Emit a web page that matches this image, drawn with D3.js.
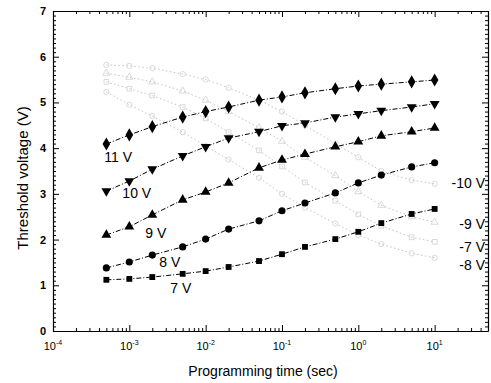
<!DOCTYPE html>
<html>
<head>
<meta charset="utf-8">
<script src="https://cdn.jsdelivr.net/npm/d3@7"></script>
<style>
  body { margin: 0; background: #fff; }
  text { font-family: "Liberation Sans", Arial, sans-serif; fill: #000; }
</style>
</head>
<body>
<div id="chart"></div>
<script>
// programming times (sec)
const times = [5e-4, 1e-3, 2e-3, 5e-3, 1e-2, 2e-2, 5e-2, 1e-1, 2e-1, 5e-1, 1, 2, 5, 10];

// program curves (threshold voltage, V)
const prog11 = [4.09, 4.29, 4.47, 4.68, 4.80, 4.90, 5.05, 5.12, 5.21, 5.30, 5.36, 5.40, 5.45, 5.49];
const prog10 = [3.06, 3.28, 3.54, 3.83, 4.03, 4.22, 4.36, 4.49, 4.55, 4.68, 4.75, 4.82, 4.90, 4.97];
const prog9 = [2.10, 2.28, 2.54, 2.87, 3.04, 3.24, 3.57, 3.74, 3.87, 4.03, 4.14, 4.27, 4.36, 4.44];
const prog8 = [1.38, 1.51, 1.66, 1.84, 2.01, 2.23, 2.41, 2.63, 2.80, 3.02, 3.24, 3.41, 3.59, 3.68];
const prog7 = [1.12, 1.14, 1.18, 1.25, 1.31, 1.40, 1.53, 1.68, 1.84, 2.01, 2.17, 2.36, 2.56, 2.67];

// erase curves (faint in the original)
const erase10 = [5.82, 5.80, 5.75, 5.62, 5.50, 5.32, 5.05, 4.80, 4.50, 4.10, 3.80, 3.50, 3.30, 3.22];
const erase9 = [5.64, 5.55, 5.45, 5.25, 5.05, 4.80, 4.45, 4.15, 3.80, 3.40, 3.05, 2.75, 2.50, 2.38];
const erase7 = [5.45, 5.30, 5.15, 4.90, 4.65, 4.35, 3.95, 3.60, 3.25, 2.85, 2.55, 2.30, 2.05, 1.95];
const erase8 = [5.23, 4.95, 4.70, 4.35, 4.05, 3.75, 3.35, 3.00, 2.70, 2.35, 2.10, 1.90, 1.70, 1.60];

const xExponents = [-4, -3, -2, -1, 0, 1];
const yTicks = [0, 1, 2, 3, 4, 5, 6, 7];

const width = 491, height = 383;
const svg = d3.select("#chart").append("svg")
  .attr("width", width).attr("height", height);

const x = d3.scaleLog().domain([1e-4, 50]).range([53, 488]);
const y = d3.scaleLinear().domain([0, 7]).range([331, 11]);

// erase curves first (underneath)
const eraseSeries = [
  { v: erase10, shape: d3.symbolCircle },
  { v: erase9, shape: d3.symbolTriangle },
  { v: erase7, shape: d3.symbolSquare },
  { v: erase8, shape: d3.symbolCircle },
];
const line = d3.line().x((d, i) => x(times[i])).y(d => y(d));

eraseSeries.forEach(s => {
  svg.append("path").datum(s.v)
    .attr("d", line)
    .attr("fill", "none")
    .attr("stroke", "#c4c4c4")
    .attr("stroke-width", 1)
    .attr("stroke-dasharray", "1.5,2.5");
  svg.selectAll(null).data(s.v).join("path")
    .attr("transform", (d, i) => `translate(${x(times[i])},${y(d)})`)
    .attr("d", d3.symbol().type(s.shape).size(22))
    .attr("fill", "none")
    .attr("stroke", "#d0d0d0")
    .attr("stroke-width", 0.8);
});

// program curves
const progSeries = [
  { v: prog11, shape: d3.symbolDiamond, size: 50, rot: 0 },
  { v: prog10, shape: d3.symbolTriangle, size: 42, rot: 180 },
  { v: prog9, shape: d3.symbolTriangle, size: 42, rot: 0 },
  { v: prog8, shape: d3.symbolCircle, size: 40, rot: 0 },
  { v: prog7, shape: d3.symbolSquare, size: 34, rot: 0 },
];

progSeries.forEach(s => {
  svg.append("path").datum(s.v)
    .attr("d", line)
    .attr("fill", "none")
    .attr("stroke", "#000")
    .attr("stroke-width", 1)
    .attr("stroke-dasharray", "5,2,1,2");
  svg.selectAll(null).data(s.v).join("path")
    .attr("transform", (d, i) => `translate(${x(times[i])},${y(d)}) rotate(${s.rot})`)
    .attr("d", d3.symbol().type(s.shape).size(s.size))
    .attr("fill", "#000");
});

// axes: ticks point inward on all four sides
const logTicks = x.ticks();
const isMajor = d => Math.abs(Math.log10(d) - Math.round(Math.log10(d))) < 1e-9;
const yMinor = d3.range(0, 70.5, 1).map(d => d / 10);
const isWhole = d => Math.abs(d - Math.round(d)) < 1e-9;

function styleAxis(g) {
  g.select(".domain").attr("stroke", "#000").attr("stroke-width", 1.2);
  g.selectAll(".tick line").attr("stroke", "#000");
}

svg.append("g").attr("transform", `translate(0,${y(0)})`)
  .call(d3.axisBottom(x).tickValues(logTicks).tickFormat("").tickSizeOuter(0)
    .tickSizeInner(0))
  .call(styleAxis)
  .selectAll(".tick line").attr("y2", d => isMajor(d) ? -6 : -3);

svg.append("g").attr("transform", `translate(0,${y(7)})`)
  .call(d3.axisTop(x).tickValues(logTicks).tickFormat("").tickSizeOuter(0)
    .tickSizeInner(0))
  .call(styleAxis)
  .selectAll(".tick line").attr("y2", d => isMajor(d) ? 6 : 3);

svg.append("g").attr("transform", `translate(${x(1e-4)},0)`)
  .call(d3.axisLeft(y).tickValues(yMinor).tickFormat("").tickSizeOuter(0)
    .tickSizeInner(0))
  .call(styleAxis)
  .selectAll(".tick line").attr("x2", d => isWhole(d) ? 6 : 3);

svg.append("g").attr("transform", `translate(${x(50)},0)`)
  .call(d3.axisRight(y).tickValues(yMinor).tickFormat("").tickSizeOuter(0)
    .tickSizeInner(0))
  .call(styleAxis)
  .selectAll(".tick line").attr("x2", d => isWhole(d) ? -6 : -3);

// tick labels
svg.selectAll(null).data(yTicks).join("text")
  .attr("x", x(1e-4) - 7)
  .attr("y", d => y(d) + 4)
  .attr("text-anchor", "end")
  .attr("font-size", 11)
  .attr("font-weight", "bold")
  .text(d => d);

const xl = svg.selectAll(null).data(xExponents).join("text")
  .attr("x", d => x(Math.pow(10, d)))
  .attr("y", 350)
  .attr("text-anchor", "middle")
  .attr("font-size", 11);
xl.append("tspan").text("10");
xl.append("tspan").attr("dy", -5).attr("font-size", 7).text(d => d);

// axis titles
svg.append("text")
  .attr("x", 263).attr("y", 376)
  .attr("text-anchor", "middle")
  .attr("font-size", 14)
  .text("Programming time (sec)");

svg.append("text")
  .attr("transform", "translate(28,178) rotate(-90)")
  .attr("text-anchor", "middle")
  .attr("font-size", 15)
  .text("Threshold voltage (V)");

// series labels
const progLabels = [
  { t: "11 V", yv: 3.7, dx: -2 },
  { t: "10 V", yv: 2.92, dx: 16 },
  { t: "9 V", yv: 2.04, dx: 39 },
  { t: "8 V", yv: 1.4, dx: 53 },
  { t: "7 V", yv: 0.83, dx: 64 },
];
svg.selectAll(null).data(progLabels).join("text")
  .attr("x", d => x(times[0]) + d.dx)
  .attr("y", d => y(d.yv))
  .attr("font-size", 14)
  .text(d => d.t);

const eraseLabels = [
  { t: "-10 V", yv: 3.12 },
  { t: "-9 V", yv: 2.23 },
  { t: "-7 V", yv: 1.72 },
  { t: "-8 V", yv: 1.33 },
];
svg.selectAll(null).data(eraseLabels).join("text")
  .attr("x", x(50) - 3)
  .attr("y", d => y(d.yv))
  .attr("text-anchor", "end")
  .attr("font-size", 14)
  .text(d => d.t);
</script>
</body>
</html>
